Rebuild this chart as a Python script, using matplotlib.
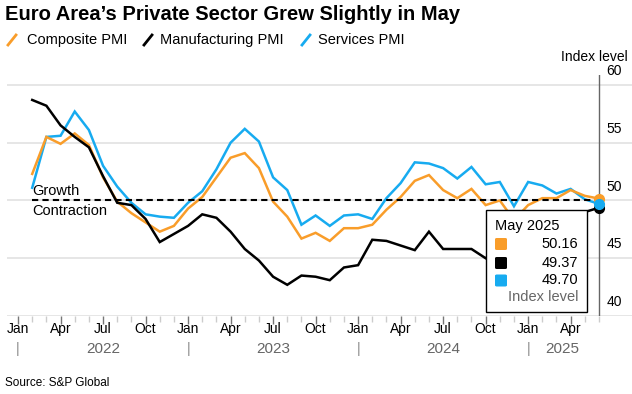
import numpy as np
import matplotlib
matplotlib.use("Agg")
import matplotlib.pyplot as plt
from matplotlib.lines import Line2D
from matplotlib.patches import Rectangle, FancyBboxPatch

plt.rcParams['font.family'] = ['Liberation Sans', 'DejaVu Sans']

# monthly PMI, Jan 2022 .. May 2025
composite = [52.3, 55.5, 54.9, 55.8, 54.8, 52.0, 49.9, 48.9, 48.1, 47.3, 47.8, 49.3,
             50.3, 52.0, 53.7, 54.1, 52.8, 49.9, 48.6, 46.7, 47.2, 46.5, 47.6, 47.6,
             47.9, 49.2, 50.3, 51.7, 52.2, 50.9, 50.2, 51.0, 49.6, 50.0, 48.3, 49.6,
             50.2, 50.2, 50.9, 50.4, 50.16]
manufacturing = [58.7, 58.2, 56.5, 55.5, 54.6, 52.1, 49.8, 49.6, 48.4, 46.4, 47.1, 47.8,
                 48.8, 48.5, 47.3, 45.8, 44.8, 43.4, 42.7, 43.5, 43.4, 43.1, 44.2, 44.4,
                 46.6, 46.5, 46.1, 45.7, 47.3, 45.8, 45.8, 45.8, 45.0, 46.0, 45.2, 45.1,
                 46.6, 47.6, 48.6, 49.0, 49.37]
services = [51.1, 55.5, 55.6, 57.7, 56.1, 53.0, 51.2, 49.8, 48.8, 48.6, 48.5, 49.8,
            50.8, 52.7, 55.0, 56.2, 55.1, 52.0, 50.9, 47.9, 48.7, 47.8, 48.7, 48.8,
            48.4, 50.2, 51.5, 53.3, 53.2, 52.8, 51.9, 52.9, 51.4, 51.6, 49.5, 51.6,
            51.3, 50.6, 51.0, 50.1, 49.70]
years = ["2022", "2023", "2024", "2025"]
month_labels = ["Jan", "Apr", "Jul", "Oct"]
yticks = [40, 45, 50, 55, 60]

ORANGE = '#F99D2A'
BLUE = '#17ABF0'
BLACK = '#000000'
GRID = '#e2e2e2'

W, H = 632, 394
def fx(x):
    return x / W
def fy(y):
    return 1 - y / H

fig = plt.figure(figsize=(W / 100, H / 100), dpi=100)
ax = fig.add_axes([fx(7), fy(316), 625 / W, 241 / H])

# x = end of month, months counted from Jan 2022 start
x = np.arange(1, len(composite) + 1)
ax.set_xlim(-0.78, 43.33)
ax.set_ylim(40, 60.86)

for v in yticks:
    ax.axhline(v, color=GRID, lw=1.2, zorder=0)
    ax.text(42.6, v, str(v), ha='right', va='bottom', fontsize=10,
            transform=ax.transData + matplotlib.transforms.ScaledTranslation(0, 5 / 72, fig.dpi_scale_trans))
ax.axvline(x[-1], color='#666666', lw=1.0, zorder=1)

ax.plot(x, services, color=BLUE, lw=1.8, zorder=3, solid_joinstyle='miter')
ax.plot(x, composite, color=ORANGE, lw=1.8, zorder=3, solid_joinstyle='miter')
ax.plot(x, manufacturing, color=BLACK, lw=1.8, zorder=3, solid_joinstyle='miter')
ax.hlines(50, x[0], x[-1], colors='black', lw=1.5, linestyles=(0, (3, 2)), zorder=4)

ax.plot(x[-1], composite[-1], 'o', color=ORANGE, ms=7, zorder=6, clip_on=False)
ax.plot(x[-1], manufacturing[-1], 'o', color=BLACK, ms=7, zorder=6, clip_on=False)
ax.plot(x[-1], services[-1], 'o', color=BLUE, ms=7, zorder=7, clip_on=False)

ax.text(x[0], 50.25, "Growth", fontsize=10.5, va='bottom', ha='left', zorder=5)
ax.text(x[0], 49.7, "Contraction", fontsize=10.5, va='top', ha='left', zorder=5)

for s in ax.spines.values():
    s.set_visible(False)
ax.set_yticks([])
major = np.arange(0, 40, 3)
ax.set_xticks(major)
ax.set_xticklabels([month_labels[(m // 3) % 4] for m in major])
ax.set_xticks(np.arange(0, 42), minor=True)
ax.tick_params(axis='x', which='major', length=6, width=1, color='#777777',
               labelsize=10, pad=-2)
ax.tick_params(axis='x', which='minor', length=4, width=1, color='#cccccc')

for i, yr in enumerate(years):
    ax.text(12 * i, -0.137, "|", transform=ax.get_xaxis_transform(),
            ha='center', va='center', fontsize=10, color='#888888')
    xc = 12 * i + 6 if i < 3 else 38.4
    ax.text(xc, -0.137, yr, transform=ax.get_xaxis_transform(),
            ha='center', va='center', fontsize=11, color='#666666')

# tooltip box
fig.patches.append(Rectangle((fx(485.5), fy(312)), 101.5 / W, 102 / H,
                             transform=fig.transFigure, facecolor='white',
                             edgecolor='black', lw=1.0, zorder=10))
fig.text(fx(495), fy(226), "May 2025", fontsize=10.5, va='center', ha='left', zorder=11)
for yy, col, val in [(244, ORANGE, composite[-1]), (263, BLACK, manufacturing[-1]),
                     (280.5, BLUE, services[-1])]:
    fig.patches.append(FancyBboxPatch((fx(495), fy(yy + 6)), 12 / W, 12 / H,
                                      boxstyle='round,pad=0,rounding_size=0.003',
                                      transform=fig.transFigure, facecolor=col,
                                      edgecolor='none', zorder=11))
    fig.text(fx(578), fy(yy), f"{val:.2f}", fontsize=10.5, va='center', ha='right', zorder=11)
fig.text(fx(578), fy(297), "Index level", fontsize=10.5, va='center', ha='right',
         color='#666666', zorder=11)

# title, legend, notes
fig.text(fx(5), fy(15), "Euro Area\u2019s Private Sector Grew Slightly in May",
         fontsize=14.5, fontweight='bold', va='center', ha='left')
for x0, xt, col, lab in [(8, 27, ORANGE, "Composite PMI"), (144, 160, BLACK, "Manufacturing PMI"),
                         (302, 318, BLUE, "Services PMI")]:
    fig.add_artist(Line2D([fx(x0), fx(x0 + 8)], [fy(45), fy(35)], color=col, lw=2.0,
                          transform=fig.transFigure))
    fig.text(fx(xt), fy(40), lab, fontsize=10.5, va='center', ha='left')
fig.text(fx(628), fy(57), "Index level", fontsize=10, va='center', ha='right')
fig.text(fx(5), fy(383), "Source: S&P Global", fontsize=8.5, va='center', ha='left')

fig.savefig("out.png", dpi=100)
